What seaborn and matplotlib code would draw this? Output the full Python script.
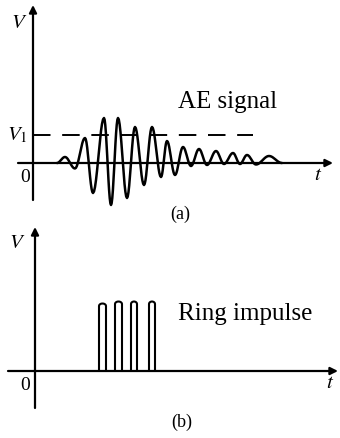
import numpy as np
import pandas as pd
import matplotlib
matplotlib.use("Agg")
import matplotlib.pyplot as plt
import seaborn as sns

# (a) AE signal: turning points of the wave
ae_t = [24, 32, 42, 52, 60, 71, 78, 85, 94, 102, 111, 119, 128, 134, 142,
        150, 158, 166, 174, 183, 191, 200, 207, 214, 223, 236, 249]
ae_v = [0, 6, -5.5, 25, -30, 45, -42, 45, -35, 36, -22, 36, -14, 22, -12,
        16, -3, 14, -2, 12, -1, 10, -1, 8, -1.5, 7, 0]
v1_level = 28
v1_end = 220

# (b) ring impulses: start / end times and height
pulse_start = [64, 80, 96, 114]
pulse_end = [71, 87, 102, 120]
pulse_height = [67, 69, 69, 69]

W, H, DPI = 340, 438, 100


def smooth_wave(ts, vs, n=12):
    # half-cosine segments between turning points, only for drawing
    xs, ys = [ts[0]], [vs[0]]
    for i in range(len(ts) - 1):
        u = np.linspace(0, 1, n)[1:]
        xs.extend(ts[i] + (ts[i + 1] - ts[i]) * u)
        ys.extend(vs[i] + (vs[i + 1] - vs[i]) * (1 - np.cos(np.pi * u)) / 2)
    return pd.DataFrame({"t": xs, "V": ys})


def pulse_path(s, e, h):
    r = (e - s) / 2
    ang = np.linspace(np.pi, 0, 10)
    xs = [s, s] + list(s + r + r * np.cos(ang)) + [e, e]
    ys = [0, h - 2] + list(h - 2 + 2.5 * np.sin(ang)) + [h - 2, 0]
    return pd.DataFrame({"t": xs, "V": ys})


def draw_axes(ax, x0, x1, y0, y1):
    arrow = dict(arrowstyle="-|>", lw=1.6, color="black", mutation_scale=11,
                 shrinkA=0, shrinkB=0)
    ax.annotate("", xy=(x1, 0), xytext=(x0, 0), arrowprops=arrow)
    ax.annotate("", xy=(0, y1), xytext=(0, y0), arrowprops=arrow)


sns.set_theme(style="white")
plt.rcParams["mathtext.fontset"] = "stix"
plt.rcParams["font.family"] = ["Liberation Serif", "DejaVu Serif"]
plt.rcParams["text.color"] = "black"

fig = plt.figure(figsize=(W / DPI, H / DPI), dpi=DPI)
fig.patch.set_facecolor("white")

# panel (a)
ax1 = fig.add_axes([0, (H - 220) / H, 1, 220 / H])
ax1.set_xlim(-33, W - 33)
ax1.set_ylim(163 - 220, 163)
ax1.axis("off")
draw_axes(ax1, -15, 300, -37, 158)
sns.lineplot(data=smooth_wave(ae_t, ae_v), x="t", y="V", ax=ax1, color="black",
             lw=1.8, sort=False, estimator=None)
ax1.plot([0, v1_end], [v1_level, v1_level], color="black", lw=1.4,
         dashes=(9, 6))
ax1.text(145, 55, "AE signal", fontsize=18, va="baseline", ha="left")
ax1.text(-14, 139, "$V$", fontsize=15, ha="center", va="center")
ax1.text(-16, v1_level, "$V_1$", fontsize=15, ha="center", va="center")
ax1.text(-8, -15, "0", fontsize=14, ha="center", va="center")
ax1.text(285, -12, "$t$", fontsize=15, ha="center", va="center")
ax1.text(147, -51, "(a)", fontsize=13, ha="center", va="center")

# panel (b)
ax2 = fig.add_axes([0, 0, 1, 220 / H])
ax2.set_xlim(-35, W - 35)
ax2.set_ylim(371 - 438, 371 - 218)
ax2.axis("off")
draw_axes(ax2, -27, 303, -37, 144)
for s, e, h in zip(pulse_start, pulse_end, pulse_height):
    sns.lineplot(data=pulse_path(s, e, h), x="t", y="V", ax=ax2,
                 color="black", lw=1.5, sort=False, estimator=None)
ax2.text(143, 51, "Ring impulse", fontsize=18, va="baseline", ha="left")
ax2.text(-18, 128, "$V$", fontsize=15, ha="center", va="center")
ax2.text(-10, -14, "0", fontsize=14, ha="center", va="center")
ax2.text(295, -12, "$t$", fontsize=15, ha="center", va="center")
ax2.text(147, -51, "(b)", fontsize=13, ha="center", va="center")

fig.savefig("out.png", dpi=DPI, facecolor="white")
